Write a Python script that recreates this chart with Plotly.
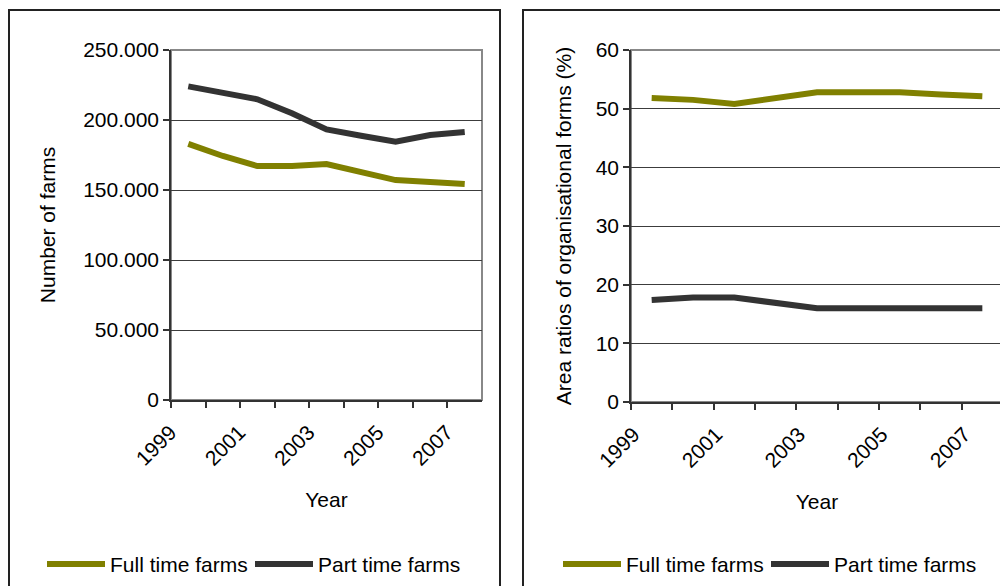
import plotly.graph_objects as go

# Data
years = [str(y) for y in range(1999, 2008)]
year_labels = [y if int(y) % 2 == 1 else "" for y in years]

farms_full = [182900, 174300, 167100, 167100, 168600, 162600, 157100, 155700, 154300]
farms_part = [224000, 219800, 214800, 204800, 193300, 188800, 184500, 189300, 191400]

area_full = [51.8, 51.5, 50.8, 51.8, 52.8, 52.8, 52.8, 52.4, 52.1]
area_part = [17.4, 17.8, 17.8, 17.0, 16.0, 16.0, 16.0, 16.0, 16.0]

series_names = ["Full time farms", "Part time farms"]

# Style
# the page body has an 8px margin, so the figure is shrunk and positions are offset by it
OFF = 8
W, H = 1008 - OFF, 586 - OFF
OLIVE = "#808000"
DARK = "#333333"
COLORS = [OLIVE, DARK]
FONT = dict(family="Liberation Sans, Arial, sans-serif", size=21, color="#000000")


def px_x(v):
    return (v - OFF) / W


def px_y(v):
    return 1 - (v - OFF) / H


fig = go.Figure()

# left panel
fig.add_trace(go.Scatter(x=years, y=farms_full, name=series_names[0], mode="lines",
                         line=dict(color=OLIVE, width=6), xaxis="x", yaxis="y"))
fig.add_trace(go.Scatter(x=years, y=farms_part, name=series_names[1], mode="lines",
                         line=dict(color=DARK, width=6), xaxis="x", yaxis="y"))
# right panel
fig.add_trace(go.Scatter(x=years, y=area_full, name=series_names[0], mode="lines",
                         line=dict(color=OLIVE, width=6), xaxis="x2", yaxis="y2"))
fig.add_trace(go.Scatter(x=years, y=area_part, name=series_names[1], mode="lines",
                         line=dict(color=DARK, width=6), xaxis="x2", yaxis="y2"))

common_x = dict(
    type="category", range=[-0.5, 8.5], tickson="boundaries", ticks="outside",
    ticklen=6, tickcolor=DARK, tickwidth=1.5, showline=True, linecolor=DARK, linewidth=1.5,
    showgrid=False, tickangle=-45, tickvals=years, ticktext=year_labels,
    ticklabelshift=-18, ticklabelstandoff=10,
    tickfont=FONT, title=dict(text="Year", font=FONT, standoff=24), automargin=False,
)
common_y = dict(
    ticks="outside", ticklen=6, tickcolor=DARK, tickwidth=1.5, showline=True,
    linecolor=DARK, linewidth=1.5, showgrid=True, gridcolor="#3c3c3c", gridwidth=1,
    zeroline=False, tickfont=FONT, automargin=False,
)

fig.update_layout(
    width=W, height=H,
    margin=dict(l=0, r=0, t=0, b=0),
    paper_bgcolor="white", plot_bgcolor="white",
    font=FONT,
    separators=",.",
    showlegend=False,
    xaxis=dict(common_x, domain=[px_x(171), px_x(482)], anchor="y"),
    yaxis=dict(common_y, domain=[px_y(400), px_y(50)], anchor="x",
               range=[0, 250000], dtick=50000, tickformat=",d",
               title=dict(text="Number of farms", font=FONT, standoff=22)),
    xaxis2=dict(common_x, domain=[px_x(631), px_x(1003)], anchor="y2"),
    yaxis2=dict(common_y, domain=[px_y(402), px_y(50)], anchor="x2",
                range=[0, 60], dtick=10,
                title=dict(text="Area ratios of organisational forms (%)", font=FONT, standoff=18)),
)

# panel frames and plot-area borders
fig.add_shape(type="rect", xref="paper", yref="paper", x0=px_x(9), x1=px_x(500),
              y0=-0.05, y1=px_y(10), line=dict(color="#222222", width=2), layer="below")
fig.add_shape(type="rect", xref="paper", yref="paper", x0=px_x(523), x1=1.05,
              y0=-0.05, y1=px_y(10), line=dict(color="#222222", width=2), layer="below")
fig.add_shape(type="rect", xref="x domain", yref="y domain", x0=0, x1=1, y0=0, y1=1,
              line=dict(color="#888888", width=2), layer="below")
fig.add_shape(type="rect", xref="x2 domain", yref="y2 domain", x0=0, x1=1, y0=0, y1=1,
              line=dict(color="#888888", width=2), layer="below")

# legends (Excel-style, with long line keys)
LEGEND_Y = 564
SWATCH = 58
legend_starts = [[47, 255], [563, 771]]  # left edge of each key, per panel
for starts in legend_starts:
    for name, color, x0 in zip(series_names, COLORS, starts):
        fig.add_shape(type="line", xref="paper", yref="paper",
                      x0=px_x(x0), x1=px_x(x0 + SWATCH), y0=px_y(LEGEND_Y), y1=px_y(LEGEND_Y),
                      line=dict(color=color, width=6))
        fig.add_annotation(xref="paper", yref="paper", x=px_x(x0 + SWATCH + 3), y=px_y(LEGEND_Y),
                           text=name, showarrow=False, xanchor="left", yanchor="middle",
                           font=FONT)

fig.write_html("out.html")
